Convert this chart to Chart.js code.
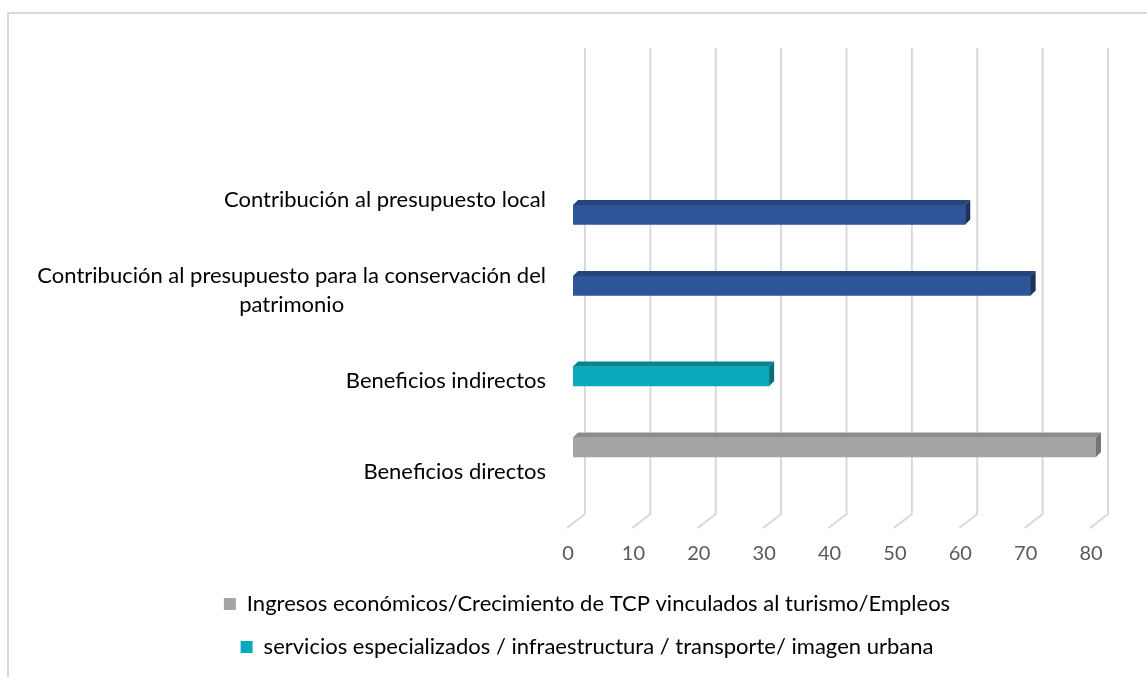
<!DOCTYPE html>
<html>
<head>
<meta charset="utf-8">
<script src="https://cdn.jsdelivr.net/npm/chart.js@4.4.0/dist/chart.umd.min.js"></script>
<style>
  html, body { margin: 0; padding: 0; background: #fff; }
  #frame { position: absolute; left: 7px; top: 12px; width: 1200px; height: 700px;
           border-left: 2px solid #d9d9d9; border-top: 2px solid #d9d9d9; }
  #wrap { position: absolute; left: 0; top: 0; width: 1147px; height: 677px; }
</style>
</head>
<body>
<div id="frame"></div>
<div id="wrap"><canvas id="out"></canvas></div>
<script>
// categories, top to bottom
const categories = [
  "Contribución al presupuesto local",
  ["Contribución al presupuesto para la conservación del", "patrimonio"],
  "Beneficios indirectos",
  "Beneficios directos"
];
const ingresosData = [null, null, null, 80];
const serviciosData = [null, null, 30, null];
const patrimonioData = [null, 70, null, null];
const localData = [60, null, null, null];
const xTicks = [0, 10, 20, 30, 40, 50, 60, 70, 80];

Chart.defaults.font.family = "Lato";

// back wall grid lines + short floor lines (fake 3D)
const floorGrid = {
  id: "floorGrid",
  beforeDatasetsDraw(chart) {
    const { ctx, chartArea, scales: { x } } = chart;
    ctx.save();
    ctx.strokeStyle = "#d9d9d9";
    ctx.lineWidth = 2;
    xTicks.forEach(v => {
      const px = x.getPixelForValue(v);
      ctx.beginPath();
      ctx.moveTo(px + 12, chartArea.top - 102);
      ctx.lineTo(px + 12, chartArea.bottom + 2);
      ctx.lineTo(px - 6, chartArea.bottom + 16);
      ctx.stroke();
    });
    ctx.restore();
  }
};

// top and right faces of each bar
const barDepth = {
  id: "barDepth",
  afterDatasetsDraw(chart) {
    const ctx = chart.ctx;
    const d = 5;
    chart.data.datasets.forEach((ds, i) => {
      const meta = chart.getDatasetMeta(i);
      meta.data.forEach((bar, j) => {
        if (ds.data[j] == null) return;
        const { x, y, base, height } = bar.getProps(["x", "y", "base", "height"], true);
        const top = y - height / 2, bottom = y + height / 2;
        ctx.fillStyle = ds.topColor;
        ctx.beginPath();
        ctx.moveTo(base, top);
        ctx.lineTo(base + d, top - d);
        ctx.lineTo(x + d, top - d);
        ctx.lineTo(x, top);
        ctx.closePath();
        ctx.fill();
        ctx.fillStyle = ds.sideColor;
        ctx.beginPath();
        ctx.moveTo(x, top);
        ctx.lineTo(x + d, top - d);
        ctx.lineTo(x + d, bottom - d);
        ctx.lineTo(x, bottom);
        ctx.closePath();
        ctx.fill();
      });
    });
  }
};

// category labels: block right aligned, lines centred inside the block
const catLabels = {
  id: "catLabels",
  afterDraw(chart) {
    const { ctx, chartArea, scales: { y } } = chart;
    ctx.save();
    ctx.font = "22px Lato";
    ctx.fillStyle = "#000";
    ctx.textAlign = "center";
    ctx.textBaseline = "middle";
    const right = chartArea.left - 27;
    chart.data.labels.forEach((lab, i) => {
      const lines = [].concat(lab);
      const w = Math.max(...lines.map(l => ctx.measureText(l).width));
      const cy = y.getPixelForValue(i) + 5;
      lines.forEach((l, k) => {
        ctx.fillText(l, right - w / 2, cy + (k - (lines.length - 1) / 2) * 29);
      });
    });
    ctx.restore();
  }
};

const canvasCtx = document.getElementById("out").getContext("2d");

const chartConfig = {
  type: "bar",
  data: {
    labels: categories,
    datasets: [
      {
        label: "Ingresos económicos/Crecimiento de TCP vinculados al turismo/Empleos",
        data: ingresosData,
        backgroundColor: "#a5a5a5",
        topColor: "#8d8d8d",
        sideColor: "#747474",
        stack: "a"
      },
      {
        label: "servicios especializados / infraestructura / transporte/ imagen urbana",
        data: serviciosData,
        backgroundColor: "#0aa9bb",
        topColor: "#08838f",
        sideColor: "#066e78",
        stack: "b"
      },
      {
        label: "Serie 3",
        data: patrimonioData,
        backgroundColor: "#2e5597",
        topColor: "#24447a",
        sideColor: "#1b335c",
        stack: "b"
      },
      {
        label: "Serie 4",
        data: localData,
        backgroundColor: "#2e5597",
        topColor: "#24447a",
        sideColor: "#1b335c",
        stack: "c"
      }
    ]
  },
  options: {
    indexAxis: "y",
    responsive: true,
    maintainAspectRatio: false,
    animation: false,
    layout: { padding: { top: 150, left: 78, right: 51, bottom: 9 } },
    datasets: { bar: { barThickness: 19.5, borderWidth: 0 } },
    scales: {
      x: {
        min: 0,
        max: 80,
        grid: { display: false },
        border: { display: false },
        ticks: {
          stepSize: 10,
          padding: 22,
          labelOffset: -5,
          maxRotation: 0,
          color: "#595959",
          font: { size: 20 }
        },
        afterFit(scale) { scale.height = 60; }
      },
      y: {
        grid: { display: false },
        border: { display: false },
        ticks: { display: false },
        afterFit(scale) { scale.width = 495; }
      }
    },
    plugins: {
      tooltip: { enabled: false },
      legend: {
        position: "bottom",
        labels: {
          boxWidth: 12,
          boxHeight: 12,
          padding: 21,
          color: "#000",
          font: { size: 22 },
          filter: item => item.datasetIndex < 2
        }
      }
    }
  },
  plugins: [floorGrid, barDepth, catLabels]
};

window.chart = new Chart(canvasCtx, chartConfig);
</script>
</body>
</html>
